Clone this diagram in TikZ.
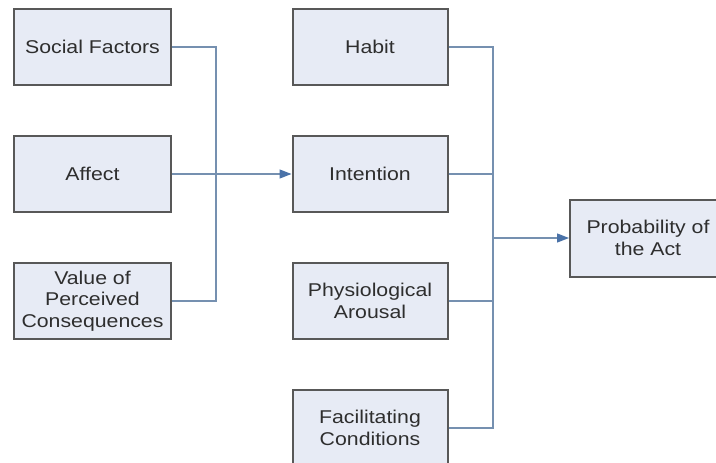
\documentclass[tikz,border=0pt]{standalone}
\usepackage{fontspec}
\setmainfont{Liberation Sans}[FakeStretch=1.15]
\usetikzlibrary{arrows.meta}
\definecolor{boxfill}{HTML}{E7EBF5}
\definecolor{boxline}{HTML}{585858}
\definecolor{wire}{HTML}{7590B0}
\definecolor{tipblue}{HTML}{4A72A8}
\begin{document}
\begin{tikzpicture}[x=1pt,y=-1pt,
  factor/.style={draw=boxline, line width=2pt, fill=boxfill, minimum width=155pt,
    minimum height=76pt, align=center, inner sep=0pt,
    font=\fontsize{18.5pt}{21.5pt}\selectfont, text=black!82},
  wire/.style={draw=wire, line width=1.3pt},
  arrow/.style={wire, -{Triangle[length=12pt,width=9pt,color=tipblue]}}]
\useasboundingbox (0,0) rectangle (716,463);
\begin{scope}
\clip (0,0) rectangle (716,463);
% left column
\node[factor, minimum width=157pt] (social) at (92.5,47) {Social Factors};
\node[factor, minimum width=157pt] (affect) at (92.5,174) {Affect};
\node[factor, minimum width=157pt] (value) at (92.5,301) {Value of\\Perceived\\Consequences};
% middle column
\node[factor] (habit) at (370,47) {Habit};
\node[factor] (intent) at (370,174) {Intention};
\node[factor] (arousal) at (370,301) {Physiological\\Arousal};
\node[factor] (facil) at (370,428) {Facilitating\\Conditions};
% outcome
\node[factor, minimum width=156pt, minimum height=77pt] (prob) at (648,238) {Probability of\\the Act};
% bus joints
\coordinate (lbus) at (216,174);
\coordinate (rbus) at (493,238);
% left bus
\draw[wire] (social.east) -| (lbus);
\draw[wire] (value.east) -| (lbus);
\draw[arrow] (affect.east) -- (intent.west);
% right bus
\draw[wire] (habit.east) -| (rbus);
\draw[wire] (intent.east) -| (rbus);
\draw[wire] (arousal.east) -| (rbus);
\draw[wire] (facil.east) -| (rbus);
\draw[arrow] (rbus) -- (prob.west);
\end{scope}
\end{tikzpicture}
\end{document}
